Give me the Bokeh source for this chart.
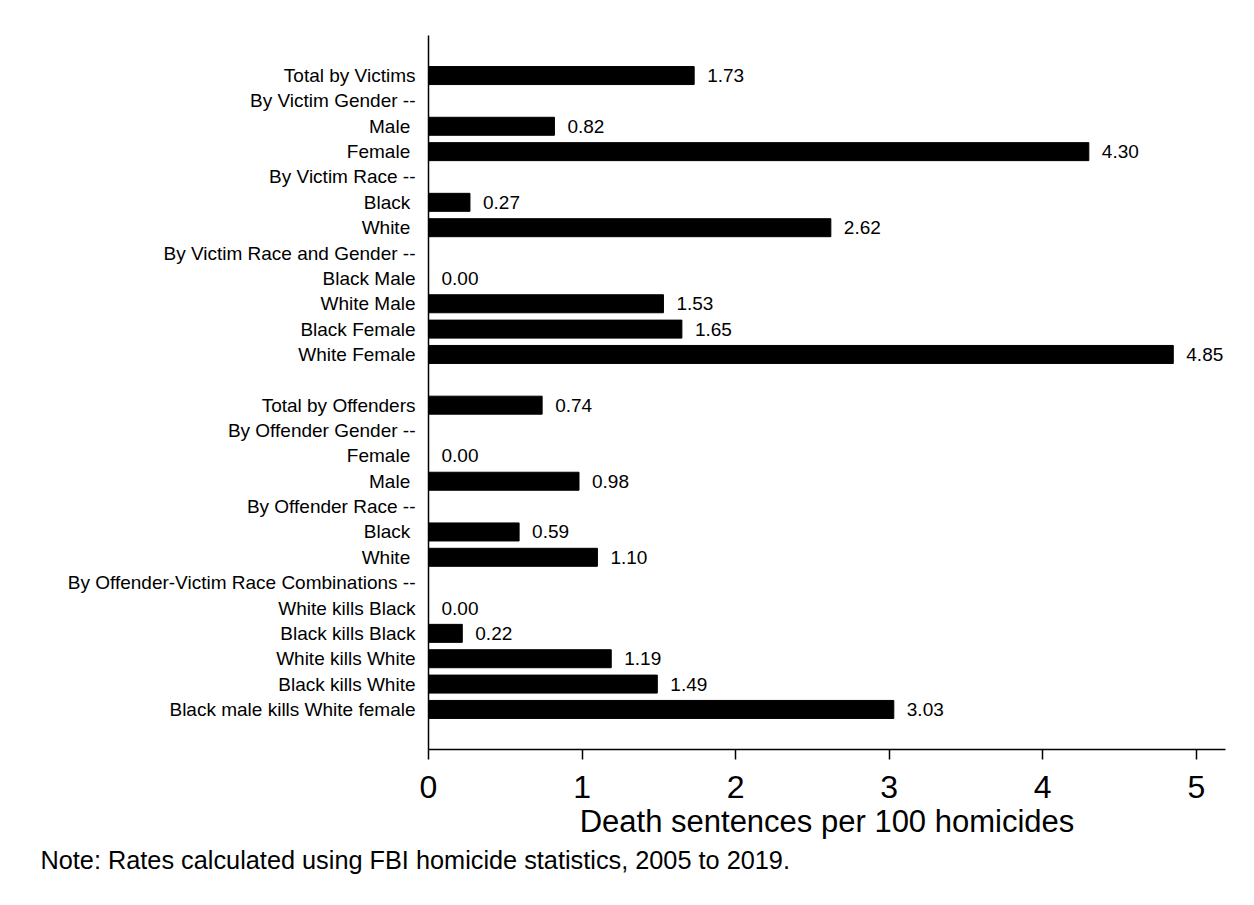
import numpy as np
from bokeh.plotting import figure
from bokeh.models import Range1d, FixedTicker, ColumnDataSource, Title
from bokeh.embed import file_html
from bokeh.resources import INLINE
from bokeh.core.properties import value

categories = [
    "Total by Victims", "By Victim Gender --", "Male ", "Female ",
    "By Victim Race --", "Black ", "White ", "By Victim Race and Gender --",
    "Black Male", "White Male", "Black Female", "White Female", "",
    "Total by Offenders", "By Offender Gender --", "Female ", "Male ",
    "By Offender Race --", "Black ", "White ",
    "By Offender-Victim Race Combinations --", "White kills Black",
    "Black kills Black", "White kills White", "Black kills White",
    "Black male kills White female",
]
rates = [
    1.73, None, 0.82, 4.30, None, 0.27, 2.62, None,
    0.00, 1.53, 1.65, 4.85, None,
    0.74, None, 0.00, 0.98, None, 0.59, 1.10, None,
    0.00, 0.22, 1.19, 1.49, 3.03,
]
x_ticks = [0, 1, 2, 3, 4, 5]
x_label = "Death sentences per 100 homicides"
note = "Note: Rates calculated using FBI homicide statistics, 2005 to 2019."

FONT = "Liberation Sans"

rows = list(range(len(categories)))
bar_rows = [i for i, v in zip(rows, rates) if v is not None]
bar_vals = [v for v in rates if v is not None]
src = ColumnDataSource(dict(y=bar_rows, x=bar_vals,
                            lab=[f"{v:.2f}" for v in bar_vals]))

p = figure(width=1246, height=875, output_backend="svg", toolbar_location=None,
           x_range=Range1d(0, 5.19), y_range=Range1d(26.58, -1.58),
           min_border_left=428, min_border_right=21, min_border_top=35,
           min_border_bottom=10)
p.outline_line_color = None
p.xgrid.visible = False
p.ygrid.visible = False
p.background_fill_color = "white"
p.border_fill_color = "white"

p.hbar(y="y", right="x", left=0, height=0.71, source=src,
       fill_color="black", line_color="black")
p.text(x="x", y="y", text="lab", source=src, x_offset=13,
       text_font=value(FONT), text_font_size="19px", text_baseline="middle",
       text_align="left", text_color="black")

# y axis
ya = p.yaxis[0]
ya.ticker = FixedTicker(ticks=[i for i in rows if categories[i] != ""])
ya.major_label_overrides = {i: categories[i] for i in rows if categories[i] != ""}
ya.major_tick_line_color = None
ya.minor_tick_line_color = None
ya.major_tick_out = 0
ya.major_tick_in = 0
ya.major_label_standoff = 13
ya.major_label_text_font = FONT
ya.major_label_text_font_size = "19px"
ya.major_label_text_color = "black"
ya.axis_line_width = 1.5
ya.axis_line_color = "black"

# x axis
xa = p.xaxis[0]
xa.ticker = FixedTicker(ticks=x_ticks)
xa.minor_tick_line_color = None
xa.major_tick_out = 10
xa.major_tick_in = 0
xa.major_tick_line_width = 1.5
xa.axis_line_width = 1.5
xa.axis_line_color = "black"
xa.major_label_text_font = FONT
xa.major_label_text_font_size = "32px"
xa.major_label_text_color = "black"
xa.major_label_standoff = 16
xa.axis_label = x_label
xa.axis_label_text_font = FONT
xa.axis_label_text_font_size = "31px"
xa.axis_label_text_font_style = "normal"
xa.axis_label_text_color = "black"
xa.axis_label_standoff = 3

t = Title(text=note, align="left", text_font=FONT, text_font_size="25.3px",
          text_font_style="normal", text_color="black", offset=-388,
          standoff=4)
p.add_layout(t, "below")

open("out.html", "w").write(file_html(p, INLINE))
